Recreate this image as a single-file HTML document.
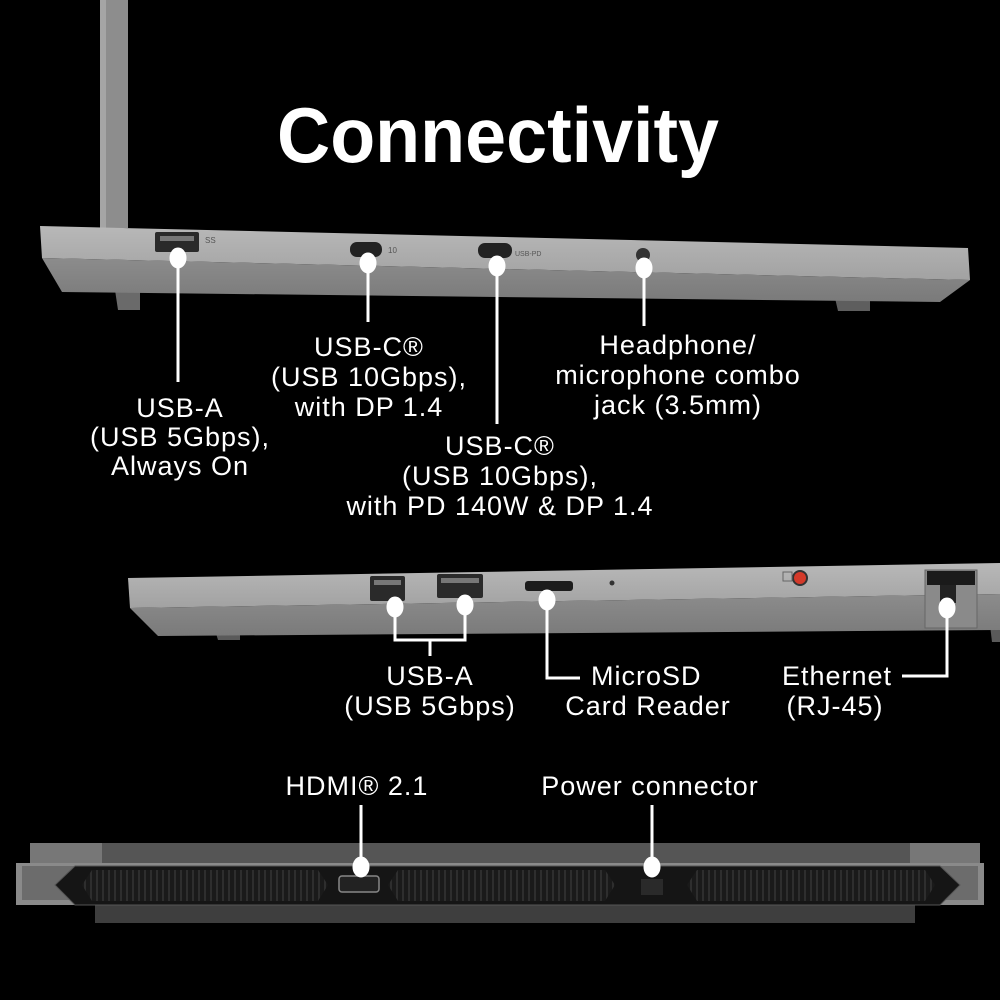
<!DOCTYPE html>
<html><head><meta charset="utf-8"><style>
html,body{margin:0;padding:0;background:#000;width:1000px;height:1000px;overflow:hidden}
svg{display:block}
text{font-family:"Liberation Sans",sans-serif;fill:#fff}
</style></head><body>
<svg width="1000" height="1000" viewBox="0 0 1000 1000" xmlns="http://www.w3.org/2000/svg">
<rect width="1000" height="1000" fill="#000"/>
<defs>
<linearGradient id="g1" x1="0" y1="0" x2="0" y2="1"><stop offset="0" stop-color="#b8b8b8"/><stop offset="1" stop-color="#a2a2a2"/></linearGradient>
<linearGradient id="g2" x1="0" y1="0" x2="0" y2="1"><stop offset="0" stop-color="#8c8c8c"/><stop offset="1" stop-color="#7a7a7a"/></linearGradient>
<pattern id="vent" width="6" height="10" patternUnits="userSpaceOnUse"><rect width="6" height="10" fill="#1a1a1a"/><rect x="0" width="2" height="10" fill="#2e2e2e"/></pattern>
</defs>

<text x="498" y="162" font-size="78" font-weight="bold" text-anchor="middle" textLength="442" lengthAdjust="spacingAndGlyphs">Connectivity</text>

<!-- top laptop -->
<rect x="100" y="0" width="28" height="228" fill="#8d8d8d"/>
<rect x="100" y="0" width="6" height="228" fill="#a5a5a5"/>
<polygon points="115,290 140,290 140,310 118,310" fill="#6a6a6a"/>
<polygon points="835,298 870,298 870,311 838,311" fill="#5e5e5e"/>
<polygon points="40,226 968,248 970,280 42,258" fill="url(#g1)"/>
<polygon points="42,258 970,280 940,302 62,292" fill="url(#g2)"/>
<rect x="155" y="232" width="44" height="20" rx="2" fill="#2a2a2a"/>
<rect x="160" y="236" width="34" height="5" fill="#777"/>
<rect x="350" y="242" width="32" height="15" rx="7" fill="#222"/>
<rect x="478" y="243" width="34" height="15" rx="7" fill="#222"/>
<circle cx="643" cy="255" r="7" fill="#333"/>
<text x="205" y="243" font-size="8" style="fill:#555">SS</text>
<text x="388" y="253" font-size="8" style="fill:#555">10</text>
<text x="515" y="256" font-size="7" style="fill:#555">USB-PD</text>

<g fill="#fff" stroke="#fff" stroke-width="3">
<line x1="178" y1="257" x2="178" y2="382"/><ellipse cx="178" cy="258" rx="7" ry="9"/>
<line x1="368" y1="262" x2="368" y2="322"/><ellipse cx="368" cy="263" rx="7" ry="9"/>
<line x1="497" y1="265" x2="497" y2="424"/><ellipse cx="497" cy="266" rx="7" ry="9"/>
<line x1="644" y1="268" x2="644" y2="326"/><ellipse cx="644" cy="268" rx="7" ry="9"/>
</g>
<g font-size="27" text-anchor="middle" letter-spacing="1">
<text x="369" y="356">USB-C®</text>
<text x="369" y="386">(USB 10Gbps),</text>
<text x="369" y="416">with DP 1.4</text>
<text x="678" y="354">Headphone/</text>
<text x="678" y="384">microphone combo</text>
<text x="678" y="414">jack (3.5mm)</text>
<text x="180" y="417">USB-A</text>
<text x="180" y="446">(USB 5Gbps),</text>
<text x="180" y="475">Always On</text>
<text x="500" y="455">USB-C®</text>
<text x="500" y="485">(USB 10Gbps),</text>
<text x="500" y="515">with PD 140W &amp; DP 1.4</text>
</g>

<!-- middle laptop -->
<polygon points="215,630 240,630 240,640 218,640" fill="#5a5a5a"/>
<polygon points="990,625 1000,625 1000,642 992,642" fill="#5a5a5a"/>
<polygon points="128,578 1000,563 1000,594 130,608" fill="url(#g1)"/>
<polygon points="130,608 1000,594 1000,630 158,636" fill="url(#g2)"/>
<rect x="925" y="570" width="52" height="58" fill="#8a8a8a" stroke="#666" stroke-width="1"/>
<rect x="927" y="571" width="48" height="14" fill="#1a1a1a"/>
<rect x="940" y="585" width="16" height="18" fill="#222"/>
<rect x="370" y="576" width="35" height="25" rx="2" fill="#2a2a2a"/>
<rect x="374" y="580" width="27" height="5" fill="#777"/>
<rect x="437" y="574" width="46" height="24" rx="2" fill="#2a2a2a"/>
<rect x="441" y="578" width="38" height="5" fill="#777"/>
<rect x="525" y="581" width="48" height="10" rx="3" fill="#1c1c1c"/>
<circle cx="612" cy="583" r="2.5" fill="#333"/>
<circle cx="800" cy="578" r="7" fill="#d43a2a" stroke="#333" stroke-width="2"/>
<rect x="783" y="572" width="9" height="9" fill="none" stroke="#666"/>
<g fill="#fff" stroke="#fff" stroke-width="3">
<line x1="395" y1="608" x2="395" y2="640"/><ellipse cx="395" cy="607" rx="7" ry="9"/>
<line x1="465" y1="606" x2="465" y2="640"/><ellipse cx="465" cy="605" rx="7" ry="9"/>
<line x1="393.5" y1="640" x2="466.5" y2="640"/>
<line x1="430" y1="640" x2="430" y2="656"/>
<polyline points="547,600 547,678 580,678" fill="none"/><ellipse cx="547" cy="600" rx="7" ry="9"/>
<polyline points="947,608 947,676 902,676" fill="none"/><ellipse cx="947" cy="608" rx="7" ry="9"/>
</g>
<g font-size="27" letter-spacing="1">
<text x="430" y="685" text-anchor="middle">USB-A</text>
<text x="430" y="715" text-anchor="middle">(USB 5Gbps)</text>
<text x="591" y="685">MicroSD</text>
<text x="648" y="715" text-anchor="middle">Card Reader</text>
<text x="837" y="685" text-anchor="middle">Ethernet</text>
<text x="835" y="715" text-anchor="middle">(RJ-45)</text>
<text x="357" y="795" text-anchor="middle">HDMI® 2.1</text>
<text x="650" y="795" text-anchor="middle">Power connector</text>
</g>

<!-- bottom laptop -->
<rect x="30" y="843" width="950" height="22" fill="#555"/>
<rect x="30" y="843" width="72" height="22" fill="#777"/>
<rect x="910" y="843" width="70" height="22" fill="#777"/>
<rect x="95" y="900" width="820" height="23" fill="#3e3e3e"/>
<polygon points="16,863 984,863 984,905 16,905" fill="#8a8a8a"/>
<polygon points="22,866 978,866 978,900 22,900" fill="#6c6c6c"/>
<polygon points="75,866 940,866 960,885 940,905 75,905 55,885" fill="#151515" stroke="#555" stroke-width="1"/>
<polygon points="92,870 318,870 328,885 318,901 92,901 82,885" fill="url(#vent)"/>
<polygon points="398,870 605,870 615,885 605,901 398,901 388,885" fill="url(#vent)"/>
<polygon points="697,870 925,870 935,885 925,901 697,901 687,885" fill="url(#vent)"/>
<rect x="339" y="876" width="40" height="16" rx="3" fill="#222" stroke="#888" stroke-width="1.5"/>
<rect x="641" y="879" width="22" height="16" fill="#2a2a2a"/>
<g fill="#fff" stroke="#fff" stroke-width="3">
<line x1="361" y1="805" x2="361" y2="866"/><ellipse cx="361" cy="867" rx="7" ry="9"/>
<line x1="652" y1="805" x2="652" y2="866"/><ellipse cx="652" cy="867" rx="7" ry="9"/>
</g>
</svg>
</body></html>
